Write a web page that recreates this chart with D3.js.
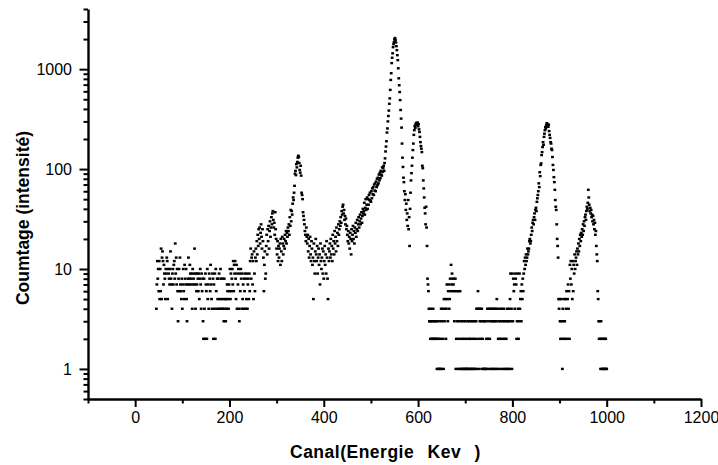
<!DOCTYPE html>
<html>
<head>
<meta charset="utf-8">
<script src="https://cdn.jsdelivr.net/npm/d3@7/dist/d3.min.js"></script>
<style>
    body { margin: 0; background: #fff; }
    text { font-family: Arial, "Liberation Sans", sans-serif; fill: #000; }
</style>
</head>
<body>
<div id="spectre"></div>
<script>
//spectre : comptage par canal (echelle log)
var first_channel = 45;
var counts = [
    4, 7, 12, 8, 10, 6, 12, 5, 10, 6,
    16, 5, 13, 15, 12, 7, 11, 9, 8, 5,
    10, 9, 13, 12, 5, 10, 9, 8, 7, 10,
    15, 8, 7, 4, 9, 10, 7, 11, 12, 8,
    18, 9, 13, 7, 10, 6, 3, 8, 10, 6,
    13, 7, 6, 5, 8, 4, 7, 10, 6, 5,
    11, 8, 7, 10, 5, 3, 7, 8, 13, 7,
    8, 11, 9, 7, 8, 9, 4, 10, 7, 8,
    9, 16, 7, 4, 9, 6, 7, 9, 8, 6,
    9, 5, 8, 10, 7, 4, 9, 6, 8, 3,
    2, 8, 4, 2, 9, 7, 6, 2, 10, 5,
    7, 4, 9, 8, 6, 11, 7, 5, 4, 9,
    8, 2, 7, 4, 9, 2, 10, 6, 4, 8,
    5, 8, 4, 9, 5, 4, 10, 8, 5, 4,
    8, 4, 5, 3, 8, 4, 5, 3, 5, 4,
    7, 6, 5, 4, 7, 6, 10, 5, 9, 6,
    8, 10, 7, 12, 6, 11, 9, 12, 8, 5,
    11, 4, 9, 7, 10, 4, 3, 9, 6, 10,
    8, 4, 9, 5, 7, 4, 8, 6, 9, 4,
    8, 5, 9, 4, 7, 8, 5, 9, 6, 12,
    16, 8, 13, 14, 7, 12, 5, 15, 9, 6,
    13, 16, 12, 19, 14, 22, 17, 25, 20, 26,
    18, 23, 28, 21, 16, 25, 19, 13, 6, 11,
    15, 8, 9, 17, 22, 14, 25, 19, 27, 16,
    24, 30, 21, 26, 33, 28, 36, 38, 31, 26,
    29, 22, 37, 25, 20, 16, 14, 19, 12, 17,
    13, 16, 18, 11, 20, 15, 12, 21, 18, 14,
    17, 20, 16, 22, 19, 24, 18, 23, 21, 26,
    24, 28, 22, 33, 27, 39, 30, 38, 35, 45,
    52, 49, 58, 68, 90, 96, 87, 112, 104, 118,
    130, 136, 132, 115, 98, 92, 108, 86, 58, 55,
    50, 37, 34, 31, 28, 24, 22, 19, 26, 21,
    18, 22, 15, 20, 13, 17, 21, 14, 12, 19,
    16, 11, 13, 5, 18, 12, 9, 15, 20, 14,
    12, 17, 9, 13, 16, 11, 14, 7, 18, 12,
    10, 13, 16, 9, 15, 8, 12, 17, 11, 14,
    9, 19, 13, 8, 5, 16, 12, 15, 18, 13,
    20, 14, 17, 12, 22, 16, 19, 14, 24, 18,
    21, 15, 26, 19, 23, 17, 28, 22, 25, 30,
    27, 33, 29, 38, 35, 42, 44, 36, 39, 31,
    34, 28, 32, 25, 27, 22, 19, 24, 18, 21,
    16, 23, 20, 14, 25, 19, 22, 27, 20, 24,
    18, 26, 23, 29, 21, 25, 31, 24, 28, 33,
    26, 30, 35, 28, 32, 37, 29, 34, 40, 36,
    38, 46, 35, 41, 50, 39, 44, 52, 40, 50,
    44, 55, 49, 58, 48, 47, 60, 51, 64, 56,
    66, 55, 70, 61, 72, 60, 75, 66, 80, 69,
    82, 72, 88, 77, 92, 81, 96, 88, 86, 104,
    94, 102, 108, 96, 115, 128, 150, 168, 190, 232,
    255, 300, 340, 385, 450, 510, 620, 780, 910, 1150,
    1300, 1440, 1660, 1780, 1870, 1990, 2050, 1960, 1850, 1700,
    1550, 1380, 1230, 1020, 810, 690, 590, 490, 390, 320,
    260, 180, 130, 105, 82, 74, 60, 49, 56, 39,
    45, 31, 36, 27, 49, 25, 33, 17, 40, 58,
    77, 91, 108, 130, 155, 180, 220, 245, 270, 258,
    280, 290, 275, 285, 292, 268, 282, 250, 235, 210,
    186, 170, 160, 148, 108, 102, 77, 64, 52, 41,
    36, 28, 42, 26, 17, 8, 7, 6, 4, 3,
    3, 2, 4, 3, 2, 3, 2, 4, 2, 3,
    2, 3, 2, 3, 2, 1, 3, 2, 1, 2,
    1, 3, 1, 2, 4, 1, 3, 4, 2, 1,
    5, 3, 4, 5, 2, 4, 7, 5, 3, 6,
    7, 4, 5, 8, 6, 11, 7, 9, 8, 6,
    7, 8, 3, 6, 8, 1, 2, 6, 3, 1,
    2, 6, 3, 1, 6, 2, 1, 3, 1, 2,
    1, 3, 1, 2, 1, 3, 1, 2, 1, 1,
    3, 1, 2, 1, 3, 2, 1, 1, 3, 2,
    1, 3, 1, 2, 1, 3, 1, 2, 3, 4,
    1, 4, 6, 2, 4, 1, 3, 4, 2, 3,
    4, 1, 2, 3, 1, 1, 3, 1, 3, 1,
    2, 1, 4, 2, 3, 4, 1, 2, 4, 3,
    1, 4, 3, 1, 4, 3, 1, 4, 3, 1,
    4, 3, 5, 1, 4, 2, 3, 1, 2, 4,
    3, 2, 1, 4, 3, 2, 1, 4, 3, 2,
    1, 3, 2, 1, 4, 3, 1, 3, 4, 1,
    5, 9, 3, 4, 1, 9, 3, 8, 6, 7,
    4, 9, 8, 7, 2, 3, 9, 4, 2, 3,
    9, 4, 5, 6, 3, 7, 5, 8, 6, 9,
    12, 10, 13, 11, 14, 12, 13, 16, 14, 15,
    16, 19, 20, 18, 19, 22, 26, 24, 29, 31,
    28, 33, 36, 31, 39, 41, 38, 47, 51, 55,
    60, 72, 66, 93, 85, 110, 114, 138, 148, 166,
    186, 175, 210, 226, 245, 263, 255, 275, 288, 270,
    280, 265, 278, 240, 220, 205, 186, 180, 160, 155,
    132, 110, 98, 83, 74, 62, 49, 42, 39, 28,
    20, 17, 13, 5, 4, 5, 3, 2, 3, 5,
    2, 1, 4, 3, 2, 5, 3, 2, 5, 4,
    6, 2, 5, 7, 4, 6, 2, 11, 8, 12,
    7, 10, 5, 12, 6, 11, 9, 14, 10, 12,
    13, 15, 11, 16, 14, 18, 15, 20, 17, 22,
    19, 23, 21, 25, 22, 28, 24, 30, 27, 33,
    35, 31, 38, 42, 40, 46, 62, 52, 44, 38,
    41, 36, 39, 33, 35, 30, 34, 28, 31, 25,
    29, 22, 24, 17, 14, 12, 6, 5, 3, 2,
    3, 2, 1, 3, 2, 1, 2, 1, 1, 2,
    1, 2, 1, 2, 1, 1
];

var x_ticks = [0, 200, 400, 600, 800, 1000, 1200];
var x_minor_ticks = [-100, 100, 300, 500, 700, 900, 1100];
var y_ticks = [1, 10, 100, 1000];
var x_title = "Canal(Energie Kev )";
var y_title = "Coumtage (intensité)";

var spectre_width = 718,
    spectre_height = 465,
    plot_left = 88,
    plot_right = 701,
    plot_top = 9,
    plot_bottom = 399;

var spectre_data = counts.map(function (c, i) {
    return { canal: first_channel + i, count: c };
});

var spectre_x = d3.scaleLinear()
    .domain([-100, 1200])
    .range([plot_left, plot_right]);

var spectre_y = d3.scaleLog()
    .domain([0.5, 4000])
    .range([plot_bottom, plot_top]);

// petites graduations du log : 2..9 de chaque decade
var y_minor_ticks = spectre_y.ticks().filter(function (t) {
    return y_ticks.indexOf(t) < 0;
});

var spectre_svg = d3.select("#spectre")
    .append("svg")
    .attr("width", spectre_width)
    .attr("height", spectre_height);

spectre_svg.append("rect")
    .attr("width", spectre_width)
    .attr("height", spectre_height)
    .attr("fill", "#fff");

// points
spectre_svg.append("g")
    .selectAll("rect")
    .data(spectre_data)
    .enter().append("rect")
    .attr("x", function (d) { return spectre_x(d.canal) - 1.4; })
    .attr("y", function (d) { return spectre_y(d.count) - 1.2; })
    .attr("width", 2.8)
    .attr("height", 2.4)
    .attr("fill", "#000");

// axes
var x_minor = spectre_svg.append("g")
    .attr("transform", "translate(0," + plot_bottom + ")")
    .call(d3.axisBottom(spectre_x).tickValues(x_minor_ticks).tickSize(4.5).tickFormat(""));
x_minor.select(".domain").remove();

var y_minor = spectre_svg.append("g")
    .attr("transform", "translate(" + plot_left + ",0)")
    .call(d3.axisLeft(spectre_y).tickValues(y_minor_ticks).tickSize(4.5).tickFormat(""));
y_minor.select(".domain").remove();

var x_axis = spectre_svg.append("g")
    .attr("transform", "translate(0," + plot_bottom + ")")
    .call(d3.axisBottom(spectre_x).tickValues(x_ticks).tickSize(8).tickSizeOuter(0).tickPadding(5)
        .tickFormat(d3.format("d")));

var y_axis = spectre_svg.append("g")
    .attr("transform", "translate(" + plot_left + ",0)")
    .call(d3.axisLeft(spectre_y).tickValues(y_ticks).tickSize(8.5).tickSizeOuter(0).tickPadding(7.5)
        .tickFormat(d3.format("d")));

spectre_svg.selectAll(".domain")
    .attr("stroke", "#000")
    .attr("stroke-width", 2.4);

spectre_svg.selectAll(".tick line")
    .attr("stroke", "#000")
    .attr("stroke-width", 2);

spectre_svg.selectAll(".tick text")
    .attr("font-family", "Arial, 'Liberation Sans', sans-serif")
    .attr("font-size", "16px")
    .attr("fill", "#000");

// titres
spectre_svg.append("text")
    .attr("x", 290)
    .attr("y", 458)
    .attr("font-size", "17.5px")
    .attr("font-weight", "bold")
    .style("letter-spacing", "0.5px")
    .style("word-spacing", "8px")
    .text(x_title);

spectre_svg.append("text")
    .attr("transform", "translate(29,218) rotate(-90)")
    .attr("font-size", "17.5px")
    .attr("font-weight", "bold")
    .style("text-anchor", "middle")
    .text(y_title);
</script>
</body>
</html>
